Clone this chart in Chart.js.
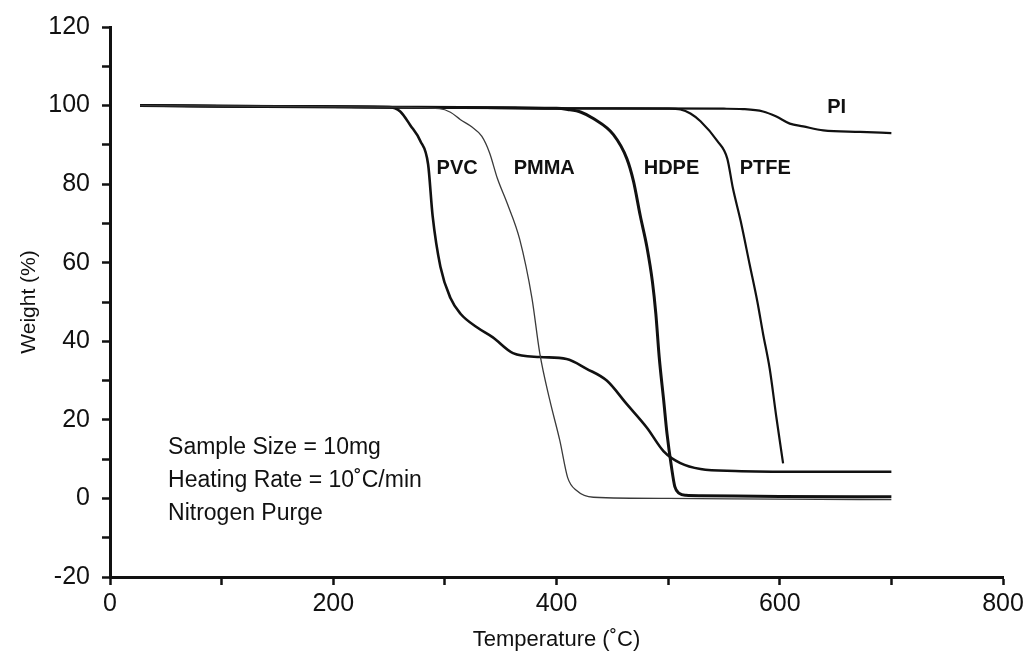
<!DOCTYPE html>
<html>
<head>
<meta charset="utf-8">
<title>TGA curves</title>
<script src="https://cdn.jsdelivr.net/npm/chart.js@4"></script>
<style>
    body { margin: 0; background: #fff; }
    #wrap { width: 1028px; height: 655px; }
</style>
</head>
<body>
<div id="wrap"><canvas id="tgaChart" width="1028" height="655"></canvas></div>
<script>
// Data: temperature (°C) and weight (%)
const pvcTemp    = [27, 150, 250, 260, 269, 278, 285, 289, 296, 305, 314, 329, 343, 361, 385, 409, 427, 445, 463, 481, 496, 511, 529, 560, 620, 700];
const pvcWeight  = [100, 99.8, 99.6, 98.5, 95, 91, 85, 72, 59, 51, 47, 43.5, 41, 37, 36, 35.5, 33, 30, 24, 18, 12, 9, 7.5, 7, 6.8, 6.8];

const pmmaTemp   = [27, 250, 295, 305, 314, 324, 333, 340, 347, 356, 367, 378, 385, 394, 403, 410, 418, 433, 500, 600, 700];
const pmmaWeight = [100, 99.6, 99.2, 98.3, 96.4, 94.6, 92.2, 88, 81.5, 75, 66, 51, 37, 25, 14.7, 5.3, 2, 0.3, 0, -0.2, -0.3];

const hdpeTemp   = [27, 250, 400, 410, 422, 433, 451, 463, 469, 475, 481, 486, 489, 492, 496, 499, 503, 506, 510, 516, 530, 600, 700];
const hdpeWeight = [100, 99.6, 99.3, 99, 98.3, 96.7, 92.6, 86.5, 80.7, 72, 64, 55, 47, 36, 25, 16.5, 8, 3, 1.3, 0.8, 0.7, 0.5, 0.4];

const ptfeTemp   = [27, 250, 400, 500, 511, 520, 529, 544, 553, 558, 565, 573, 580, 585, 591, 597, 603];
const ptfeWeight = [100, 99.6, 99.3, 99.2, 99, 98, 96, 91, 86.5, 79, 70.6, 59.6, 50, 42, 33, 20.6, 8.9];

const piTemp     = [27, 250, 400, 550, 567, 585, 597, 609, 621, 639, 672, 700];
const piWeight   = [100, 99.6, 99.3, 99.2, 99.1, 98.5, 97.2, 95.4, 94.7, 93.7, 93.3, 93];

// labelled ticks
const xTickLabels = [0, 200, 400, 600, 800];
const yTickLabels = [-20, 0, 20, 40, 60, 80, 100, 120];

function toPoints(temps, weights) {
    return temps.map((t, i) => ({ x: t, y: weights[i] }));
}

const ink = '#111';
const fontFamily = "'Liberation Sans', Arial, sans-serif";

// curve names and the note block, placed in data units
const curveLabels = [
    { text: 'PVC',  x: 311, y: 84 },
    { text: 'PMMA', x: 389, y: 84 },
    { text: 'HDPE', x: 503, y: 84 },
    { text: 'PTFE', x: 587, y: 84 },
    { text: 'PI',   x: 651, y: 99.5 }
];
const noteLines = ['Sample Size = 10mg', 'Heating Rate = 10\u02DAC/min', 'Nitrogen Purge'];

const textPlugin = {
    id: 'textPlugin',
    afterDatasetsDraw(chart) {
        const { ctx, scales } = chart;
        ctx.save();
        ctx.fillStyle = ink;
        ctx.textBaseline = 'middle';

        ctx.font = 'bold 20px ' + fontFamily;
        ctx.textAlign = 'center';
        curveLabels.forEach(l => {
            ctx.fillText(l.text, scales.x.getPixelForValue(l.x), scales.y.getPixelForValue(l.y));
        });

        ctx.font = '23px ' + fontFamily;
        ctx.textAlign = 'left';
        const noteX = scales.x.getPixelForValue(52);
        const noteY = scales.y.getPixelForValue(13);
        noteLines.forEach((line, i) => {
            ctx.fillText(line, noteX, noteY + i * 33);
        });
        ctx.restore();
    }
};

const ctx = document.getElementById('tgaChart');
new Chart(ctx, {
    type: 'line',
    data: {
        datasets: [
            { label: 'PMMA', data: toPoints(pmmaTemp, pmmaWeight), borderColor: '#3a3a3a', borderWidth: 1.3 },
            { label: 'PVC',  data: toPoints(pvcTemp, pvcWeight),   borderColor: ink, borderWidth: 2.6 },
            { label: 'HDPE', data: toPoints(hdpeTemp, hdpeWeight), borderColor: ink, borderWidth: 3 },
            { label: 'PTFE', data: toPoints(ptfeTemp, ptfeWeight), borderColor: ink, borderWidth: 2.2 },
            { label: 'PI',   data: toPoints(piTemp, piWeight),     borderColor: ink, borderWidth: 2.2 }
        ]
    },
    options: {
        responsive: false,
        animation: false,
        layout: { padding: { top: 25, right: 25, left: 15, bottom: 0 } },
        elements: {
            point: { radius: 0 },
            line: { cubicInterpolationMode: 'monotone', fill: false }
        },
        plugins: {
            legend: { display: false },
            tooltip: { enabled: false }
        },
        scales: {
            x: {
                type: 'linear',
                min: 0,
                max: 800,
                afterFit: scale => { scale.height = 78; },
                border: { display: true, color: ink, width: 3 },
                grid: { drawOnChartArea: false, drawTicks: true, tickLength: 8, tickWidth: 2.5, tickColor: ink },
                ticks: {
                    stepSize: 100,
                    autoSkip: false,
                    maxRotation: 0,
                    padding: 4,
                    color: ink,
                    font: { family: fontFamily, size: 25 },
                    callback: v => xTickLabels.includes(v) ? String(v) : ''
                },
                title: {
                    display: true,
                    text: 'Temperature (\u02DAC)',
                    color: ink,
                    padding: 2,
                    font: { family: fontFamily, size: 22 }
                }
            },
            y: {
                min: -20,
                max: 120,
                afterFit: scale => { scale.width = 95; },
                border: { display: true, color: ink, width: 3 },
                grid: { drawOnChartArea: false, drawTicks: true, tickLength: 8, tickWidth: 2.5, tickColor: ink },
                ticks: {
                    stepSize: 10,
                    autoSkip: false,
                    padding: 12,
                    color: ink,
                    font: { family: fontFamily, size: 25 },
                    callback: v => yTickLabels.includes(v) ? String(v) : ''
                },
                title: {
                    display: true,
                    text: 'Weight (%)',
                    color: ink,
                    padding: 2,
                    font: { family: fontFamily, size: 21 }
                }
            }
        }
    },
    plugins: [textPlugin]
});
</script>
</body>
</html>
